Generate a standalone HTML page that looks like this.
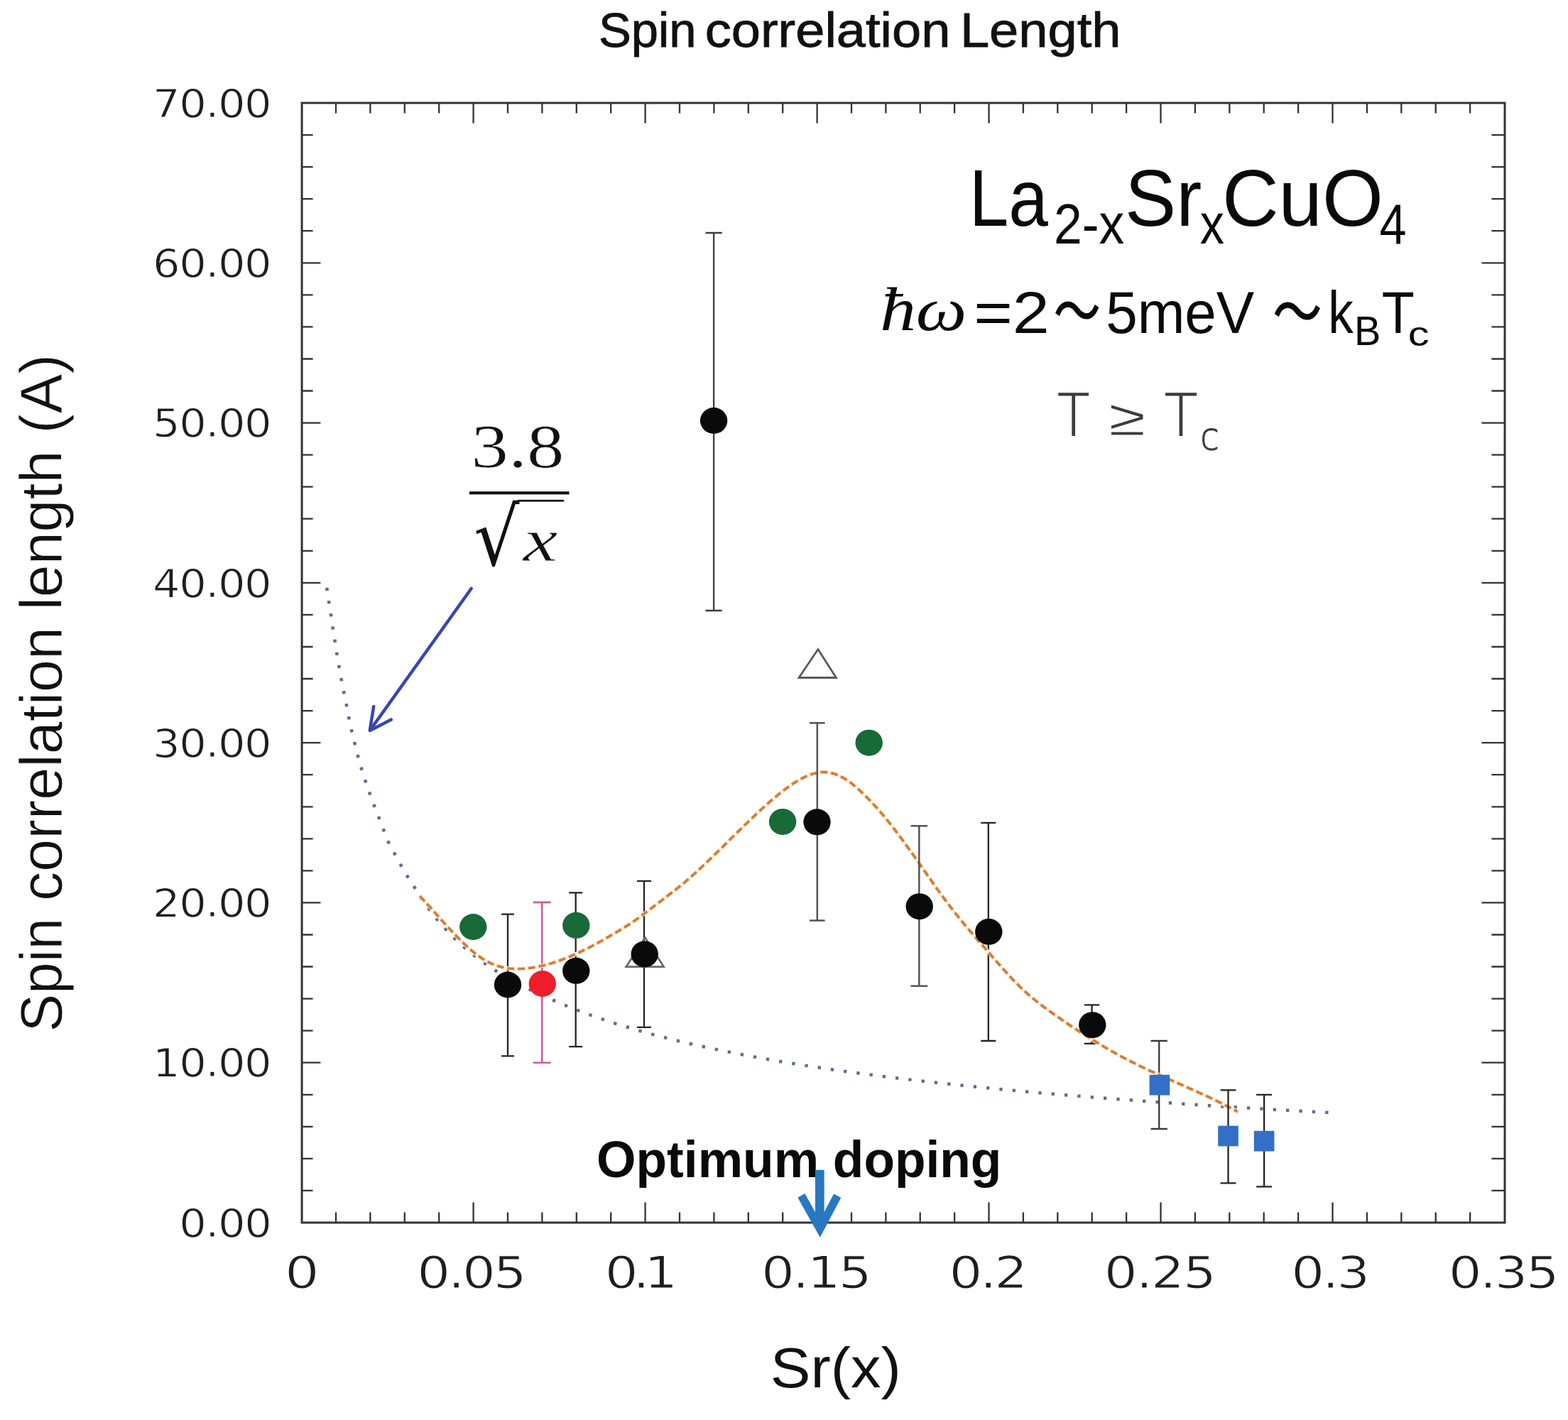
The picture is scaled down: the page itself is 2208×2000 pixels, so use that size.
<!DOCTYPE html>
<html lang="en"><head><meta charset="utf-8"><title>Spin correlation Length</title>
<style>html,body{margin:0;padding:0;background:#fff;}body{width:2208px;height:2000px;overflow:hidden;}svg{display:block;}text{font-kerning:none;white-space:pre;}.sans{font-family:"Liberation Sans",sans-serif;}.sansb{font-family:"Liberation Sans",sans-serif;font-weight:bold;}.serif{font-family:"Liberation Serif",serif;}.serifi{font-family:"Liberation Serif",serif;font-style:italic;}.dv{font-family:"DejaVu Sans","Liberation Sans",sans-serif;}.dvl{font-family:"DejaVu Sans","Liberation Sans",sans-serif;font-weight:200;}.jp{font-family:"Liberation Sans","Noto Sans CJK JP",sans-serif;}</style></head><body>
<svg width="2208" height="2000" viewBox="0 0 2208 2000">
<rect width="2208" height="2000" fill="#fff"/>
<g stroke="#333" fill="none" stroke-linecap="butt">
<rect x="425.1" y="145.0" width="1693.9" height="1577.0" stroke-width="3"/>
<path d="M473.0 1722.0v-14.5M473.0 145.0v14.5M521.4 1722.0v-14.5M521.4 145.0v14.5M569.8 1722.0v-14.5M569.8 145.0v14.5M618.2 1722.0v-14.5M618.2 145.0v14.5M666.6 1722.0v-28.5M666.6 145.0v28.5M715.0 1722.0v-14.5M715.0 145.0v14.5M763.4 1722.0v-14.5M763.4 145.0v14.5M811.8 1722.0v-14.5M811.8 145.0v14.5M860.2 1722.0v-14.5M860.2 145.0v14.5M908.6 1722.0v-28.5M908.6 145.0v28.5M957.0 1722.0v-14.5M957.0 145.0v14.5M1005.4 1722.0v-14.5M1005.4 145.0v14.5M1053.8 1722.0v-14.5M1053.8 145.0v14.5M1102.2 1722.0v-14.5M1102.2 145.0v14.5M1150.6 1722.0v-28.5M1150.6 145.0v28.5M1199.0 1722.0v-14.5M1199.0 145.0v14.5M1247.4 1722.0v-14.5M1247.4 145.0v14.5M1295.7 1722.0v-14.5M1295.7 145.0v14.5M1344.1 1722.0v-14.5M1344.1 145.0v14.5M1392.5 1722.0v-28.5M1392.5 145.0v28.5M1440.9 1722.0v-14.5M1440.9 145.0v14.5M1489.3 1722.0v-14.5M1489.3 145.0v14.5M1537.7 1722.0v-14.5M1537.7 145.0v14.5M1586.1 1722.0v-14.5M1586.1 145.0v14.5M1634.5 1722.0v-28.5M1634.5 145.0v28.5M1682.9 1722.0v-14.5M1682.9 145.0v14.5M1731.3 1722.0v-14.5M1731.3 145.0v14.5M1779.7 1722.0v-14.5M1779.7 145.0v14.5M1828.1 1722.0v-14.5M1828.1 145.0v14.5M1876.5 1722.0v-28.5M1876.5 145.0v28.5M1924.9 1722.0v-14.5M1924.9 145.0v14.5M1973.3 1722.0v-14.5M1973.3 145.0v14.5M2021.7 1722.0v-14.5M2021.7 145.0v14.5M2070.1 1722.0v-14.5M2070.1 145.0v14.5M425.1 1676.9h15.5M2119.0 1676.9h-18.6M425.1 1631.9h15.5M2119.0 1631.9h-18.6M425.1 1586.8h15.5M2119.0 1586.8h-18.6M425.1 1541.8h15.5M2119.0 1541.8h-18.6M425.1 1496.7h26.3M2119.0 1496.7h-32.5M425.1 1451.7h15.5M2119.0 1451.7h-18.6M425.1 1406.6h15.5M2119.0 1406.6h-18.6M425.1 1361.5h15.5M2119.0 1361.5h-18.6M425.1 1316.5h15.5M2119.0 1316.5h-18.6M425.1 1271.4h26.3M2119.0 1271.4h-32.5M425.1 1226.4h15.5M2119.0 1226.4h-18.6M425.1 1181.3h15.5M2119.0 1181.3h-18.6M425.1 1136.3h15.5M2119.0 1136.3h-18.6M425.1 1091.2h15.5M2119.0 1091.2h-18.6M425.1 1046.1h26.3M2119.0 1046.1h-32.5M425.1 1001.1h15.5M2119.0 1001.1h-18.6M425.1 956.0h15.5M2119.0 956.0h-18.6M425.1 911.0h15.5M2119.0 911.0h-18.6M425.1 865.9h15.5M2119.0 865.9h-18.6M425.1 820.9h26.3M2119.0 820.9h-32.5M425.1 775.8h15.5M2119.0 775.8h-18.6M425.1 730.7h15.5M2119.0 730.7h-18.6M425.1 685.7h15.5M2119.0 685.7h-18.6M425.1 640.6h15.5M2119.0 640.6h-18.6M425.1 595.6h26.3M2119.0 595.6h-32.5M425.1 550.5h15.5M2119.0 550.5h-18.6M425.1 505.5h15.5M2119.0 505.5h-18.6M425.1 460.4h15.5M2119.0 460.4h-18.6M425.1 415.3h15.5M2119.0 415.3h-18.6M425.1 370.3h26.3M2119.0 370.3h-32.5M425.1 325.2h15.5M2119.0 325.2h-18.6M425.1 280.2h15.5M2119.0 280.2h-18.6M425.1 235.1h15.5M2119.0 235.1h-18.6M425.1 190.1h15.5M2119.0 190.1h-18.6" stroke-width="2.3"/>
</g>
<text class="dv" transform="translate(252.2,1741.6) scale(1.1000,1)" fill="#1e1e1e" style="letter-spacing:-1.40px" stroke="#fff" stroke-width="1.0"><tspan font-size="55.2">0.00</tspan></text>
<text class="dv" transform="translate(215.1,1516.3) scale(1.1000,1)" fill="#1e1e1e" style="letter-spacing:-1.40px" stroke="#fff" stroke-width="1.0"><tspan font-size="55.2">10.00</tspan></text>
<text class="dv" transform="translate(215.1,1291.0) scale(1.1000,1)" fill="#1e1e1e" style="letter-spacing:-1.40px" stroke="#fff" stroke-width="1.0"><tspan font-size="55.2">20.00</tspan></text>
<text class="dv" transform="translate(215.1,1065.7) scale(1.1000,1)" fill="#1e1e1e" style="letter-spacing:-1.40px" stroke="#fff" stroke-width="1.0"><tspan font-size="55.2">30.00</tspan></text>
<text class="dv" transform="translate(215.1,840.5) scale(1.1000,1)" fill="#1e1e1e" style="letter-spacing:-1.40px" stroke="#fff" stroke-width="1.0"><tspan font-size="55.2">40.00</tspan></text>
<text class="dv" transform="translate(215.1,615.2) scale(1.1000,1)" fill="#1e1e1e" style="letter-spacing:-1.40px" stroke="#fff" stroke-width="1.0"><tspan font-size="55.2">50.00</tspan></text>
<text class="dv" transform="translate(215.1,389.9) scale(1.1000,1)" fill="#1e1e1e" style="letter-spacing:-1.40px" stroke="#fff" stroke-width="1.0"><tspan font-size="55.2">60.00</tspan></text>
<text class="dv" transform="translate(215.1,164.6) scale(1.1000,1)" fill="#1e1e1e" style="letter-spacing:-1.40px" stroke="#fff" stroke-width="1.0"><tspan font-size="55.2">70.00</tspan></text>
<text class="dv" transform="translate(401.1,1814.0) scale(1.2127,1)" fill="#1e1e1e" stroke="#fff" stroke-width="1.1"><tspan font-size="63.0">0</tspan></text>
<text class="dv" transform="translate(587.3,1814.0) scale(1.1700,1)" fill="#1e1e1e" style="letter-spacing:-2.80px" stroke="#fff" stroke-width="1.1"><tspan font-size="63.0">0.05</tspan></text>
<text class="dv" transform="translate(851.7,1814.0) scale(1.1700,1)" fill="#1e1e1e" style="letter-spacing:-6.35px" stroke="#fff" stroke-width="1.1"><tspan font-size="63.0">0.1</tspan></text>
<text class="dv" transform="translate(1072.0,1814.0) scale(1.1700,1)" fill="#1e1e1e" style="letter-spacing:-2.37px" stroke="#fff" stroke-width="1.1"><tspan font-size="63.0">0.15</tspan></text>
<text class="dv" transform="translate(1336.4,1814.0) scale(1.1700,1)" fill="#1e1e1e" style="letter-spacing:-2.81px" stroke="#fff" stroke-width="1.1"><tspan font-size="63.0">0.2</tspan></text>
<text class="dv" transform="translate(1554.8,1814.0) scale(1.1700,1)" fill="#1e1e1e" style="letter-spacing:-1.74px" stroke="#fff" stroke-width="1.1"><tspan font-size="63.0">0.25</tspan></text>
<text class="dv" transform="translate(1818.3,1814.0) scale(1.1700,1)" fill="#1e1e1e" style="letter-spacing:-2.76px" stroke="#fff" stroke-width="1.1"><tspan font-size="63.0">0.3</tspan></text>
<text class="dv" transform="translate(2039.7,1814.0) scale(1.1700,1)" fill="#1e1e1e" style="letter-spacing:-2.34px" stroke="#fff" stroke-width="1.1"><tspan font-size="63.0">0.35</tspan></text>
<text fill="#111" stroke="#111" stroke-width="0.9"><tspan class="sans" font-size="69.2" x="842.9" y="66.4" textLength="156.8" lengthAdjust="spacingAndGlyphs">Spin </tspan><tspan class="sans" font-size="69.2" x="992.8" y="66.4" textLength="366.1" lengthAdjust="spacingAndGlyphs">correlation </tspan><tspan class="sans" font-size="69.2" x="1351.9" y="66.4" textLength="226.7" lengthAdjust="spacingAndGlyphs">Length</tspan></text>
<text fill="#111" transform="translate(87.4,1450) rotate(-90)" stroke="#fff" stroke-width="0.8"><tspan class="sans" font-size="84.0" x="-3.5" y="0.0" textLength="183.0" lengthAdjust="spacingAndGlyphs">Spin </tspan><tspan class="sans" font-size="84.0" x="181.0" y="0.0" textLength="408.9" lengthAdjust="spacingAndGlyphs">correlation </tspan><tspan class="sans" font-size="84.0" x="590.4" y="0.0" textLength="247.9" lengthAdjust="spacingAndGlyphs">length </tspan><tspan class="sans" font-size="84.0" x="839.6" y="0.0" textLength="111.6" lengthAdjust="spacingAndGlyphs">(A)</tspan></text>
<text class="sans" transform="translate(1084.7,1954.3) scale(1.0653,1)" fill="#111"><tspan font-size="79.8">Sr(x)</tspan></text>
<path d="M460.2 827.8 L460.5 830.0 L463.2 848.2 L466.0 866.2 L468.6 884.3 L471.5 902.3 L474.3 920.5 L477.4 938.7 L480.7 956.8 L484.2 974.8 L487.9 992.8 L491.2 1010.7 L495.1 1028.9 L499.3 1046.4 L503.9 1064.4 L508.7 1081.5 L514.2 1099.0 L520.3 1116.5 L526.7 1134.1 L533.3 1150.9 L539.6 1167.4 L545.7 1183.8 L554.1 1199.5 L563.2 1216.2 L572.6 1232.6 L582.4 1247.5 L590.0 1260.8 L599.7 1274.6 L609.4 1287.3 L619.0 1299.1 L628.7 1310.1 L638.4 1320.3 L648.1 1329.5 L657.8 1337.7 L667.4 1345.5 L677.1 1352.8 L686.8 1359.7 L696.5 1366.2 L706.2 1372.1 L715.8 1377.8 L725.5 1383.1 L735.2 1388.2 L744.9 1393.1 L754.6 1397.8 L764.2 1402.2 L773.9 1406.5 L783.6 1410.8 L793.3 1414.9 L802.9 1418.8 L812.6 1422.6 L822.3 1426.3 L832.0 1429.9 L841.7 1433.3 L851.3 1436.6 L861.0 1439.8 L870.7 1442.8 L880.4 1445.8 L890.1 1448.7 L899.7 1451.5 L909.4 1454.2 L919.1 1456.9 L928.8 1459.4 L938.5 1461.9 L948.1 1464.3 L957.8 1466.7 L967.5 1469.0 L977.2 1471.2 L986.9 1473.4 L996.5 1475.5 L1006.2 1477.5 L1015.9 1479.6 L1025.6 1481.5 L1035.3 1483.4 L1044.9 1485.3 L1054.6 1487.1 L1064.3 1488.9 L1074.0 1490.7 L1083.7 1492.4 L1093.3 1494.0 L1103.0 1495.7 L1112.7 1497.3 L1122.4 1498.8 L1132.0 1500.4 L1141.7 1501.9 L1151.4 1503.3 L1161.1 1504.8 L1170.8 1506.2 L1180.4 1507.6 L1190.1 1508.9 L1199.8 1510.3 L1209.5 1511.6 L1219.2 1512.9 L1228.8 1514.1 L1238.5 1515.4 L1248.2 1516.6 L1257.9 1517.8 L1267.6 1519.0 L1277.2 1520.1 L1286.9 1521.3 L1296.6 1522.4 L1306.3 1523.5 L1316.0 1524.6 L1325.6 1525.6 L1335.3 1526.7 L1345.0 1527.7 L1354.7 1528.7 L1364.4 1529.7 L1374.0 1530.7 L1383.7 1531.7 L1393.4 1532.6 L1403.1 1533.6 L1412.8 1534.5 L1422.4 1535.4 L1432.1 1536.3 L1441.8 1537.2 L1451.5 1538.1 L1461.1 1538.9 L1470.8 1539.8 L1480.5 1540.6 L1490.2 1541.4 L1499.9 1542.2 L1509.5 1543.1 L1519.2 1543.8 L1528.9 1544.6 L1538.6 1545.4 L1548.3 1546.2 L1557.9 1546.9 L1567.6 1547.7 L1577.3 1548.4 L1587.0 1549.1 L1596.7 1549.8 L1606.3 1550.5 L1616.0 1551.2 L1625.7 1551.9 L1635.4 1552.6 L1645.1 1553.3 L1654.7 1553.9 L1664.4 1554.6 L1674.1 1555.3 L1683.8 1555.9 L1693.5 1556.5 L1703.1 1557.2 L1712.8 1557.8 L1722.5 1558.4 L1732.2 1559.0 L1741.9 1559.6 L1751.5 1560.2 L1761.2 1560.8 L1770.9 1561.4 L1780.6 1561.9 L1790.2 1562.5 L1799.9 1563.1 L1809.6 1563.6 L1819.3 1564.2 L1829.0 1564.7 L1838.6 1565.3 L1848.3 1565.8 L1858.0 1566.3 L1867.7 1566.8 L1877.4 1567.4" fill="none" stroke="#5e6e88" stroke-width="4.5" stroke-dasharray="4.3 14.1"/>
<path d="M715.0 1287.6V1487.3M706.0 1287.6h18M706.0 1487.3h18" fill="none" stroke="#242424" stroke-width="2.3"/>
<path d="M810.7 1257.3V1474.2M801.2 1257.3h19.0M801.2 1474.2h19.0" fill="none" stroke="#242424" stroke-width="2.3"/>
<path d="M907.0 1240.8V1446.8M897.0 1240.8h20M897.0 1446.8h20" fill="none" stroke="#242424" stroke-width="2.3"/>
<path d="M1005.1 328.0V860.0M993.5 328.0h23.2M993.5 860.0h23.2" fill="none" stroke="#3c3c3c" stroke-width="2.3"/>
<path d="M1391.8 1158.8V1466.0M1381.3 1158.8h21.0M1381.3 1466.0h21.0" fill="none" stroke="#242424" stroke-width="2.3"/>
<path d="M1537.5 1415.4V1469.8M1526.8 1415.4h21.4M1526.8 1469.8h21.4" fill="none" stroke="#242424" stroke-width="2.3"/>
<path d="M1632.2 1466.0V1590.0M1620.6 1466.0h23.2M1620.6 1590.0h23.2" fill="none" stroke="#3a3a3a" stroke-width="2.3"/>
<path d="M763.2 1270.9V1496.8M750.7 1270.9h25.0M750.7 1496.8h25.0" fill="none" stroke="#cf5aa0" stroke-width="2.6"/>
<path d="M591.2 1262.0L597.0 1268.2L602.8 1274.6L608.6 1281.0L614.3 1287.5L620.1 1294.0L625.9 1300.4L631.7 1306.8L637.5 1313.0L643.3 1319.0L649.1 1324.9L654.9 1330.5L660.6 1335.7L666.4 1340.7L672.2 1345.2L678.0 1349.3L683.8 1352.9L689.6 1356.0L695.4 1358.6L701.2 1360.6L706.9 1362.2L712.7 1363.4L718.5 1364.1L724.3 1364.6L730.1 1364.6L735.9 1364.4L741.7 1363.9L747.5 1363.2L753.2 1362.3L759.0 1361.2L764.8 1359.9L770.6 1358.4L776.4 1356.8L782.2 1354.9L788.0 1352.9L793.8 1350.8L799.5 1348.5L805.3 1346.1L811.1 1343.5L816.9 1340.8L822.7 1338.0L828.5 1335.1L834.3 1332.1L840.1 1329.0L845.8 1325.8L851.6 1322.6L857.4 1319.2L863.2 1315.8L869.0 1312.4L874.8 1308.9L880.6 1305.3L886.4 1301.7L892.1 1297.8L897.9 1293.7L903.7 1289.5L909.5 1285.1L915.3 1280.7L921.1 1276.2L926.9 1271.8L932.7 1267.4L938.4 1263.0L944.2 1258.6L950.0 1254.1L955.8 1249.5L961.6 1244.8L967.4 1239.9L973.2 1234.8L979.0 1229.6L984.7 1224.3L990.5 1218.9L996.3 1213.4L1002.1 1207.9L1007.9 1202.2L1013.7 1196.6L1019.5 1190.9L1025.3 1185.2L1031.0 1179.5L1036.8 1173.7L1042.6 1168.1L1048.4 1162.4L1054.2 1156.8L1060.0 1151.3L1065.8 1145.8L1071.6 1140.4L1077.3 1135.2L1083.1 1130.0L1088.9 1125.0L1094.7 1120.2L1100.5 1115.5L1106.3 1111.1L1112.1 1106.9L1117.9 1103.0L1123.6 1099.4L1129.4 1096.2L1135.2 1093.4L1141.0 1091.1L1146.8 1089.3L1152.6 1088.0L1158.4 1087.4L1164.2 1087.6L1169.9 1088.5L1175.7 1090.1L1181.5 1092.5L1187.3 1095.5L1193.1 1099.1L1198.9 1103.3L1204.7 1108.0L1210.5 1113.1L1216.2 1118.6L1222.0 1124.3L1227.8 1130.3L1233.6 1136.6L1239.4 1143.2L1245.2 1150.0L1251.0 1157.1L1256.8 1164.4L1262.5 1172.0L1268.3 1179.7L1274.1 1187.6L1279.9 1195.6L1285.7 1203.7L1291.5 1211.9L1297.3 1220.2L1303.1 1228.4L1308.8 1236.6L1314.6 1244.9L1320.4 1253.0L1326.2 1261.0L1332.0 1268.9L1337.8 1276.6L1343.6 1284.1L1349.4 1291.4L1355.1 1298.4L1360.9 1305.3L1366.7 1312.1L1372.5 1318.7L1378.3 1325.4L1384.1 1332.1L1389.9 1338.7L1395.7 1345.4L1401.4 1352.0L1407.2 1358.6L1413.0 1365.2L1418.8 1371.6L1424.6 1377.9L1430.4 1384.0L1436.2 1389.7L1442.0 1395.2L1447.7 1400.4L1453.5 1405.4L1459.3 1410.1L1465.1 1414.6L1470.9 1419.0L1476.7 1423.2L1482.5 1427.4L1488.3 1431.4L1494.0 1435.4L1499.8 1439.4L1505.6 1443.3L1511.4 1447.2L1517.2 1451.0L1523.0 1454.8L1528.8 1458.5L1534.6 1462.1L1540.3 1465.7L1546.1 1469.2L1551.9 1472.7L1557.7 1476.1L1563.5 1479.4L1569.3 1482.6L1575.1 1485.8L1580.9 1489.0L1586.6 1492.0L1592.4 1495.0L1598.2 1497.9L1604.0 1500.8L1609.8 1503.6L1615.6 1506.3L1621.4 1509.0L1627.2 1511.6L1632.9 1514.3L1638.7 1516.9L1644.5 1519.4L1650.3 1522.0L1656.1 1524.5L1661.9 1527.1L1667.7 1529.6L1673.5 1532.2L1679.2 1534.7L1685.0 1537.3L1690.8 1540.0L1696.6 1542.6L1702.4 1545.3L1708.2 1548.1L1714.0 1550.9L1719.8 1553.7L1725.5 1556.7L1731.3 1559.7L1737.1 1562.7L1742.9 1565.9" fill="none" stroke="#fdeedb" stroke-width="5.4"/>
<path d="M591.2 1262.0L597.0 1268.2L602.8 1274.6L608.6 1281.0L614.3 1287.5L620.1 1294.0L625.9 1300.4L631.7 1306.8L637.5 1313.0L643.3 1319.0L649.1 1324.9L654.9 1330.5L660.6 1335.7L666.4 1340.7L672.2 1345.2L678.0 1349.3L683.8 1352.9L689.6 1356.0L695.4 1358.6L701.2 1360.6L706.9 1362.2L712.7 1363.4L718.5 1364.1L724.3 1364.6L730.1 1364.6L735.9 1364.4L741.7 1363.9L747.5 1363.2L753.2 1362.3L759.0 1361.2L764.8 1359.9L770.6 1358.4L776.4 1356.8L782.2 1354.9L788.0 1352.9L793.8 1350.8L799.5 1348.5L805.3 1346.1L811.1 1343.5L816.9 1340.8L822.7 1338.0L828.5 1335.1L834.3 1332.1L840.1 1329.0L845.8 1325.8L851.6 1322.6L857.4 1319.2L863.2 1315.8L869.0 1312.4L874.8 1308.9L880.6 1305.3L886.4 1301.7L892.1 1297.8L897.9 1293.7L903.7 1289.5L909.5 1285.1L915.3 1280.7L921.1 1276.2L926.9 1271.8L932.7 1267.4L938.4 1263.0L944.2 1258.6L950.0 1254.1L955.8 1249.5L961.6 1244.8L967.4 1239.9L973.2 1234.8L979.0 1229.6L984.7 1224.3L990.5 1218.9L996.3 1213.4L1002.1 1207.9L1007.9 1202.2L1013.7 1196.6L1019.5 1190.9L1025.3 1185.2L1031.0 1179.5L1036.8 1173.7L1042.6 1168.1L1048.4 1162.4L1054.2 1156.8L1060.0 1151.3L1065.8 1145.8L1071.6 1140.4L1077.3 1135.2L1083.1 1130.0L1088.9 1125.0L1094.7 1120.2L1100.5 1115.5L1106.3 1111.1L1112.1 1106.9L1117.9 1103.0L1123.6 1099.4L1129.4 1096.2L1135.2 1093.4L1141.0 1091.1L1146.8 1089.3L1152.6 1088.0L1158.4 1087.4L1164.2 1087.6L1169.9 1088.5L1175.7 1090.1L1181.5 1092.5L1187.3 1095.5L1193.1 1099.1L1198.9 1103.3L1204.7 1108.0L1210.5 1113.1L1216.2 1118.6L1222.0 1124.3L1227.8 1130.3L1233.6 1136.6L1239.4 1143.2L1245.2 1150.0L1251.0 1157.1L1256.8 1164.4L1262.5 1172.0L1268.3 1179.7L1274.1 1187.6L1279.9 1195.6L1285.7 1203.7L1291.5 1211.9L1297.3 1220.2L1303.1 1228.4L1308.8 1236.6L1314.6 1244.9L1320.4 1253.0L1326.2 1261.0L1332.0 1268.9L1337.8 1276.6L1343.6 1284.1L1349.4 1291.4L1355.1 1298.4L1360.9 1305.3L1366.7 1312.1L1372.5 1318.7L1378.3 1325.4L1384.1 1332.1L1389.9 1338.7L1395.7 1345.4L1401.4 1352.0L1407.2 1358.6L1413.0 1365.2L1418.8 1371.6L1424.6 1377.9L1430.4 1384.0L1436.2 1389.7L1442.0 1395.2L1447.7 1400.4L1453.5 1405.4L1459.3 1410.1L1465.1 1414.6L1470.9 1419.0L1476.7 1423.2L1482.5 1427.4L1488.3 1431.4L1494.0 1435.4L1499.8 1439.4L1505.6 1443.3L1511.4 1447.2L1517.2 1451.0L1523.0 1454.8L1528.8 1458.5L1534.6 1462.1L1540.3 1465.7L1546.1 1469.2L1551.9 1472.7L1557.7 1476.1L1563.5 1479.4L1569.3 1482.6L1575.1 1485.8L1580.9 1489.0L1586.6 1492.0L1592.4 1495.0L1598.2 1497.9L1604.0 1500.8L1609.8 1503.6L1615.6 1506.3L1621.4 1509.0L1627.2 1511.6L1632.9 1514.3L1638.7 1516.9L1644.5 1519.4L1650.3 1522.0L1656.1 1524.5L1661.9 1527.1L1667.7 1529.6L1673.5 1532.2L1679.2 1534.7L1685.0 1537.3L1690.8 1540.0L1696.6 1542.6L1702.4 1545.3L1708.2 1548.1L1714.0 1550.9L1719.8 1553.7L1725.5 1556.7L1731.3 1559.7L1737.1 1562.7L1742.9 1565.9" fill="none" stroke="#d47e35" stroke-width="3.8" stroke-dasharray="9.8 5"/>
<path d="M1150.8 1018.3V1296.4M1140.0 1018.3h21.6M1140.0 1296.4h21.6" fill="none" stroke="#555" stroke-width="2.5"/>
<path d="M1294.3 1163.3V1388.8M1282.5 1163.3h23.6M1282.5 1388.8h23.6" fill="none" stroke="#555" stroke-width="2.5"/>
<path d="M1729.5 1535.4V1666.3M1718.5 1535.4h22M1718.5 1666.3h22" fill="none" stroke="#242424" stroke-width="2.3"/>
<path d="M1780.1 1541.9V1671.4M1769.1 1541.9h22M1769.1 1671.4h22" fill="none" stroke="#242424" stroke-width="2.3"/>
<path d="M1125.0 954.5L1151.9 914.5L1177.5 954.5Z" fill="none" stroke="#5a5a5a" stroke-width="2.8" stroke-linejoin="miter"/>
<path d="M881.8 1361.6L908.3 1320.5L934.6 1361.6Z" fill="none" stroke="#6a6a6a" stroke-width="2.8" stroke-linejoin="miter"/>
<ellipse cx="666.3" cy="1305.5" rx="19.2" ry="18.5" fill="#186a36"/>
<ellipse cx="811.3" cy="1303.3" rx="19.2" ry="18.5" fill="#186a36"/>
<ellipse cx="1102.1" cy="1157.4" rx="19.2" ry="18.5" fill="#186a36"/>
<ellipse cx="1223.7" cy="1046.2" rx="19.2" ry="18.5" fill="#186a36"/>
<ellipse cx="715.0" cy="1387.0" rx="19.2" ry="18.5" fill="#0a0a0a"/>
<ellipse cx="811.3" cy="1367.3" rx="19.2" ry="18.5" fill="#0a0a0a"/>
<ellipse cx="907.7" cy="1343.9" rx="19.2" ry="18.5" fill="#0a0a0a"/>
<ellipse cx="1005.1" cy="592.5" rx="19.2" ry="18.5" fill="#0a0a0a"/>
<ellipse cx="1150.5" cy="1157.8" rx="19.2" ry="18.5" fill="#0a0a0a"/>
<ellipse cx="1294.7" cy="1276.7" rx="19.2" ry="18.5" fill="#0a0a0a"/>
<ellipse cx="1392.3" cy="1312.3" rx="19.2" ry="18.5" fill="#0a0a0a"/>
<ellipse cx="1538.3" cy="1443.7" rx="19.2" ry="18.5" fill="#0a0a0a"/>
<ellipse cx="763.8" cy="1385.5" rx="19.2" ry="18.5" fill="#f01d2a"/>
<rect x="1618.6" y="1513.8" width="28.6" height="28.8" fill="#336fc6"/>
<rect x="1715.2" y="1585.6" width="28.6" height="28.8" fill="#336fc6"/>
<rect x="1765.8" y="1592.8" width="28.6" height="28.8" fill="#336fc6"/>
<text class="serif" transform="translate(663.5,658.0) scale(1.1964,1)" fill="#111" stroke="#fff" stroke-width="0.7"><tspan font-size="87.6">3.8</tspan></text>
<rect x="661" y="692.2" width="140.5" height="4.2" fill="#111"/>
<text class="dv" transform="translate(667.3,796.4) scale(0.8971,1)" fill="#111"><tspan font-size="112.5">√</tspan></text>
<text class="serifi" transform="translate(736.8,790.4) scale(1.2577,1)" fill="#111" stroke="#fff" stroke-width="0.8"><tspan font-size="87.0">x</tspan></text>
<rect x="728.6" y="703.9" width="65.6" height="2.7" fill="#111"/>
<g fill="none" stroke="#3a44b2" stroke-width="4.5" stroke-linecap="round" stroke-linejoin="round">
<path d="M663.6 829 L521.5 1028"/><path d="M526.2 995 L520.8 1029 L550.8 1013.6"/>
</g>
<text fill="#0a0a0a"><tspan class="sans" font-size="113.2" x="1364.7" y="318.0" textLength="111.3" lengthAdjust="spacingAndGlyphs">La</tspan><tspan class="sans" font-size="79.0" x="1483.9" y="342.6" textLength="99.3" lengthAdjust="spacingAndGlyphs">2-x</tspan><tspan class="sans" font-size="113.2" x="1584.1" y="318.0" textLength="108.2" lengthAdjust="spacingAndGlyphs">Sr</tspan><tspan class="sans" font-size="79.0" x="1689.7" y="342.6" textLength="34.2" lengthAdjust="spacingAndGlyphs">x</tspan><tspan class="sans" font-size="113.2" x="1720.9" y="318.0" textLength="227.0" lengthAdjust="spacingAndGlyphs">CuO</tspan><tspan class="sans" font-size="79.0" x="1942.6" y="342.6" textLength="38.0" lengthAdjust="spacingAndGlyphs">4</tspan></text>
<text fill="#0a0a0a"><tspan class="serifi" font-size="86.0" x="1239.2" y="464.6" textLength="122.2" lengthAdjust="spacingAndGlyphs">ħω</tspan><tspan class="sans" font-size="84.0" x="1371.2" y="469.2" textLength="106.6" lengthAdjust="spacingAndGlyphs">=2</tspan><tspan class="jp" font-size="84.0" x="1484.3" y="469.2" textLength="65.0" lengthAdjust="spacingAndGlyphs" stroke="#0a0a0a" stroke-width="1.6">〜</tspan><tspan class="sans" font-size="84.0" x="1557.2" y="469.2" textLength="231.3" lengthAdjust="spacingAndGlyphs">5meV </tspan><tspan class="jp" font-size="84.0" x="1792.8" y="470.0" textLength="68.2" lengthAdjust="spacingAndGlyphs" stroke="#0a0a0a" stroke-width="1.6">〜</tspan><tspan class="sans" font-size="84.0" x="1870.2" y="469.2" textLength="35.5" lengthAdjust="spacingAndGlyphs">k</tspan><tspan class="sans" font-size="57.7" x="1907.1" y="486.2" textLength="37.3" lengthAdjust="spacingAndGlyphs">B</tspan><tspan class="sans" font-size="84.3" x="1945.8" y="469.4" textLength="46.0" lengthAdjust="spacingAndGlyphs">T</tspan><tspan class="sans" font-size="49.0" x="1982.7" y="486.8" textLength="29.9" lengthAdjust="spacingAndGlyphs">c</tspan></text>
<text fill="#3c3c3c"><tspan class="dvl" font-size="81.9" x="1489.2" y="614.0" textLength="68.3" lengthAdjust="spacingAndGlyphs" stroke="#3c3c3c" stroke-width="1.1">T </tspan><tspan class="sans" font-size="72.0" x="1561.4" y="612.8" textLength="78.1" lengthAdjust="spacingAndGlyphs" stroke="#fff" stroke-width="1.0">≥ </tspan><tspan class="dvl" font-size="81.9" x="1639.8" y="614.0" textLength="46.4" lengthAdjust="spacingAndGlyphs" stroke="#3c3c3c" stroke-width="1.1">T</tspan><tspan class="dvl" font-size="53.0" x="1690.3" y="633.0" textLength="26.5" lengthAdjust="spacingAndGlyphs" stroke="#3c3c3c" stroke-width="1.1">c</tspan></text>
<text class="sansb" transform="translate(840.1,1658.2) scale(0.9797,1)" fill="#0a0a0a"><tspan font-size="72.8">Optimum doping</tspan></text>
<g fill="none" stroke="#2878c0" stroke-linejoin="miter" stroke-miterlimit="6"><path d="M1154.3 1647.8 V1728" stroke-width="12.7"/><path d="M1128.4 1683.9 L1154.6 1730.7 L1179.2 1684.3" stroke-width="11.5"/></g>
</svg></body></html>
